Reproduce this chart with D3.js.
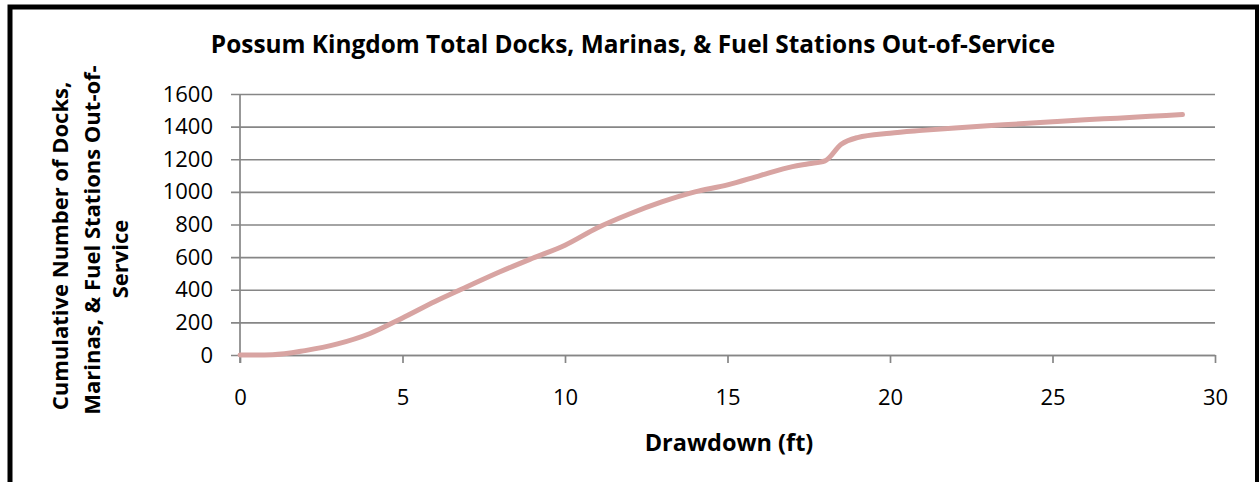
<!DOCTYPE html>
<html>
<head>
<meta charset="utf-8">
<script src="https://cdn.jsdelivr.net/npm/d3@7"></script>
<style>
  html, body { margin: 0; padding: 0; background: #fff; }
  svg { display: block; }
  text { font-family: "Open Sans", "Noto Sans", sans-serif; fill: #000; }
</style>
</head>
<body>
<svg id="chart" width="1259" height="482"></svg>
<script>
// Drawdown (ft) and cumulative count of docks, marinas and fuel stations out of service
const drawdown = [0, 1, 2, 3, 4, 5, 6, 7, 8, 9, 10, 11, 12, 13, 14, 15, 16, 17, 17.5, 18, 18.5, 19, 20, 21, 22, 23, 24, 25, 26, 27, 28, 29];
const outOfService = [0, 2, 27, 68, 132, 227, 328, 420, 510, 593, 673, 780, 866, 940, 1000, 1043, 1100, 1155, 1172, 1190, 1292, 1333, 1360, 1377, 1392, 1405, 1417, 1430, 1442, 1452, 1463, 1474];

const xTicks = [0, 5, 10, 15, 20, 25, 30];
const yTicks = [0, 200, 400, 600, 800, 1000, 1200, 1400, 1600];

const chartTitle = "Possum Kingdom Total Docks, Marinas, & Fuel Stations Out-of-Service";
const xTitle = "Drawdown (ft)";
const yTitleLines = ["Cumulative Number of Docks,", "Marinas, & Fuel Stations Out-of-", "Service"];

const svg = d3.select("#chart");
const W = 1259, H = 482;
const plot = { left: 240, right: 1215, top: 94, bottom: 355 };

const x = d3.scaleLinear().domain([0, 30]).range([plot.left, plot.right]);
const y = d3.scaleLinear().domain([0, 1600]).range([plot.bottom, plot.top]);

const gridColor = "#868686";

// outer frame
svg.append("rect")
  .attr("x", 10).attr("y", 7)
  .attr("width", 1247.5).attr("height", H)
  .attr("fill", "none").attr("stroke", "#000").attr("stroke-width", 5);

// title
svg.append("text")
  .attr("x", 633).attr("y", 53)
  .attr("text-anchor", "middle")
  .attr("font-weight", "bold").attr("font-size", 24.4)
  .text(chartTitle);

// horizontal gridlines with outward ticks (y axis)
const yAxis = d3.axisLeft(y).tickValues(yTicks)
  .tickSize(-(plot.right - plot.left)).tickSizeOuter(0)
  .tickFormat(d3.format("d"));
const gy = svg.append("g").attr("transform", `translate(${plot.left},0)`).call(yAxis);
gy.select(".domain").remove();
gy.selectAll(".tick line")
  .attr("x1", -9)
  .attr("stroke", gridColor).attr("stroke-width", 1.7);
gy.selectAll(".tick text")
  .attr("font-size", 22).attr("x", -27).attr("dy", "0.32em")
  .style("font-family", "'Open Sans', sans-serif");

// x axis with downward ticks
const xAxis = d3.axisBottom(x).tickValues(xTicks)
  .tickSize(8).tickSizeOuter(0);
const gx = svg.append("g").attr("transform", `translate(0,${plot.bottom})`).call(xAxis);
gx.select(".domain").attr("stroke", gridColor).attr("stroke-width", 1.7);
gx.selectAll(".tick line").attr("stroke", gridColor).attr("stroke-width", 1.7);
gx.selectAll(".tick text")
  .attr("font-size", 22).attr("y", 50).attr("dy", 0)
  .style("font-family", "'Open Sans', sans-serif");

// vertical axis line
svg.append("line")
  .attr("x1", x(0)).attr("x2", x(0))
  .attr("y1", y(1600)).attr("y2", plot.bottom + 8)
  .attr("stroke", gridColor).attr("stroke-width", 1.7);

// x axis title
svg.append("text")
  .attr("x", 729).attr("y", 451)
  .attr("text-anchor", "middle")
  .attr("font-weight", "bold").attr("font-size", 23.5)
  .text(xTitle);

// y axis title, three centred lines rotated
const yTitle = svg.append("text")
  .attr("transform", "translate(0,244) rotate(-90)")
  .attr("text-anchor", "middle")
  .attr("font-weight", "bold").attr("font-size", 22);
const yLineBase = [68, 100, 128];
const yLineShift = [-2, 4, -15];
yTitleLines.forEach((t, i) => {
  yTitle.append("tspan").attr("x", yLineShift[i]).attr("y", yLineBase[i]).text(t);
});

// series line
const series = drawdown.map((d, i) => ({ x: d, y: outOfService[i] }));
const line = d3.line()
  .x(d => x(d.x)).y(d => y(d.y))
  .curve(d3.curveMonotoneX);
svg.append("path")
  .datum(series)
  .attr("d", line)
  .attr("fill", "none")
  .attr("stroke", "#d8a4a2")
  .attr("stroke-width", 5)
  .attr("stroke-linecap", "round")
  .attr("stroke-linejoin", "round");
</script>
</body>
</html>
